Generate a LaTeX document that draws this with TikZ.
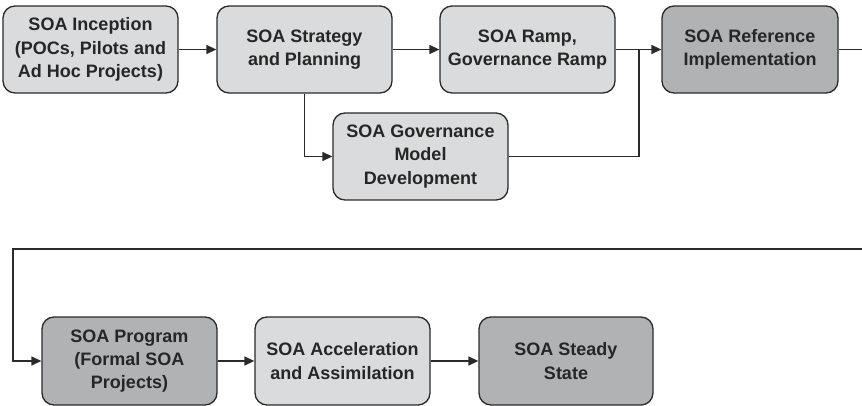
\documentclass[tikz,border=0pt]{standalone}
\usepackage{fontspec}
\setmainfont{Liberation Sans}
\usetikzlibrary{arrows.meta}
\definecolor{lightfill}{HTML}{DADBDC}
\definecolor{darkfill}{HTML}{B1B2B4}
\definecolor{edgecol}{HTML}{2A2A2A}
\tikzset{
  box/.style={draw=edgecol, line width=1.3pt, rounded corners=12pt,
    minimum width=175pt, minimum height=87pt, align=center, inner sep=2pt,
    font=\bfseries\fontsize{18}{23.3}\selectfont, text=black!85},
  lightbox/.style={box, fill=lightfill},
  darkbox/.style={box, fill=darkfill},
  conn/.style={draw=edgecol, line width=1.3pt},
  arr/.style={conn, -{Triangle[length=10pt,width=9pt]}}
}
\begin{document}
\begin{tikzpicture}[x=1pt,y=-1pt]
\useasboundingbox (0,0) rectangle (862,406);
\node[lightbox] (incep) at (90.5,49.5) {SOA Inception\\(POCs, Pilots and\\Ad Hoc Projects)};
\node[lightbox] (strat) at (304.5,49.5) {SOA Strategy\\and Planning};
\node[lightbox] (ramp) at (527.5,49.5) {SOA Ramp,\\Governance Ramp};
\node[darkbox, minimum width=176pt] (ref) at (750,49.5) {SOA Reference\\Implementation};
\node[lightbox] (gov) at (420.5,156.5) {SOA Governance\\Model\\Development};
\node[darkbox, minimum height=88pt] (prog) at (129.5,361) {SOA Program\\(Formal SOA\\Projects)};
\node[lightbox, minimum height=88pt] (accel) at (342.5,361) {SOA Acceleration\\and Assimilation};
\node[darkbox, minimum width=174pt, minimum height=88pt] (steady) at (566,361) {SOA Steady\\State};
\coordinate (join) at (639,49.5);
\coordinate (outA) at (862,49.5);
\coordinate (inB) at (862,249);
\coordinate (cornerB) at (13,249);
\draw[arr] (incep) -- (strat);
\draw[arr] (strat) -- (ramp);
\draw[arr] (ramp) -- (ref);
\draw[arr] (strat.south) |- (gov.west);
\draw[conn] (gov.east) -| (join);
\draw[conn] (ref.east) -- (outA);
\draw[arr] (inB) -- (cornerB) |- (prog.west);
\draw[arr] (prog) -- (accel);
\draw[arr] (accel) -- (steady);
\end{tikzpicture}
\end{document}
